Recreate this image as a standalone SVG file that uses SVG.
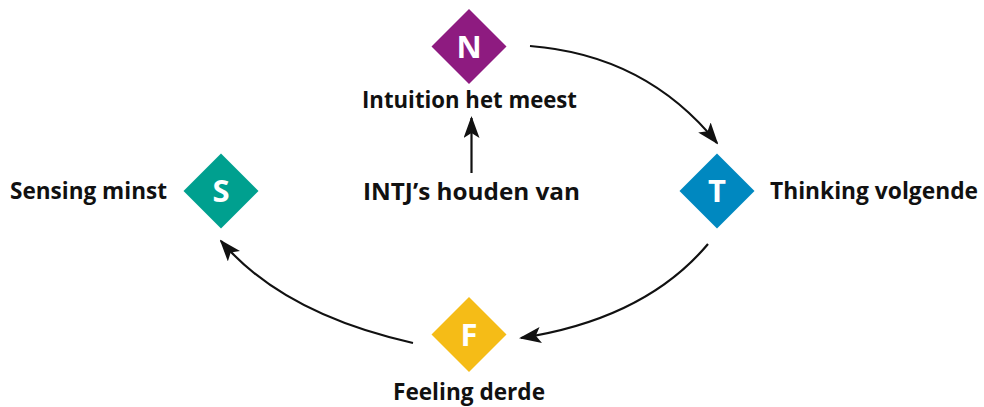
<svg xmlns="http://www.w3.org/2000/svg" width="984" height="407" viewBox="0 0 984 407">
<style>
.lbl{font-family:"Open Sans","Liberation Sans",sans-serif;font-weight:700;font-size:23.5px;fill:#111}
.let{font-family:"Open Sans","Liberation Sans",sans-serif;font-weight:700;font-size:31px;fill:#fff;text-anchor:middle}
.con{fill:none;stroke:#111;stroke-width:2.2}
</style>
<defs>
<marker id="ah" markerWidth="22" markerHeight="16" viewBox="0 0 22 16" refX="20" refY="8" orient="auto" markerUnits="userSpaceOnUse">
<path d="M0,0 L22,8 L0,16 L5,8 Z" fill="#111"/>
</marker>
</defs>
<rect width="984" height="407" fill="#fff"/>
<g id="connectors">
<path class="con" d="M530,46 Q646,55 717,143" marker-end="url(#ah)"/>
<path class="con" d="M708,244 Q645,319 521,338" marker-end="url(#ah)"/>
<path class="con" d="M413,343 Q283,314 221,241" marker-end="url(#ah)"/>
<path class="con" d="M471.5,173 L471.5,118" marker-end="url(#ah)"/>
</g>
<g id="node-N">
<polygon points="469,9 506.5,46.5 469,84 431.5,46.5" fill="#8E1B80"/>
<text class="let" x="469" y="57.5">N</text>
<text class="lbl" x="362" y="108" textLength="215" lengthAdjust="spacingAndGlyphs">Intuition het meest</text>
</g>
<g id="node-T">
<polygon points="717,153.5 754.5,191 717,228.5 679.5,191" fill="#0088C0"/>
<text class="let" x="717" y="202">T</text>
<text class="lbl" x="770" y="199" textLength="208" lengthAdjust="spacingAndGlyphs">Thinking volgende</text>
</g>
<g id="node-S">
<polygon points="221,153.5 258.5,191 221,228.5 183.5,191" fill="#00A08F"/>
<text class="let" x="221" y="202">S</text>
<text class="lbl" x="10" y="199" textLength="157" lengthAdjust="spacingAndGlyphs">Sensing minst</text>
</g>
<g id="node-F">
<polygon points="469,297 506.5,334.5 469,372 431.5,334.5" fill="#F5BC17"/>
<text class="let" x="469" y="345.5">F</text>
<text class="lbl" x="393" y="400" textLength="152" lengthAdjust="spacingAndGlyphs">Feeling derde</text>
</g>
<g id="center">
<text class="lbl" x="363" y="200" textLength="217" lengthAdjust="spacingAndGlyphs">INTJ’s houden van</text>
</g>
</svg>
